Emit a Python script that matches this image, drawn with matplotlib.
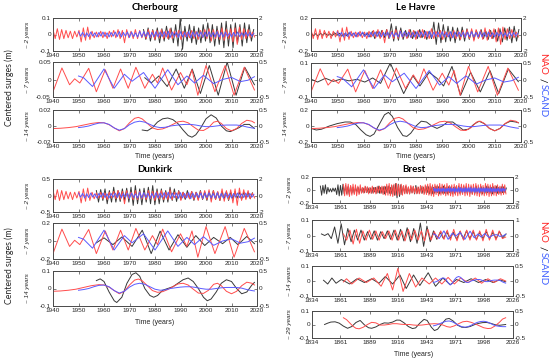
import numpy as np
import matplotlib
matplotlib.use("Agg")
import matplotlib.pyplot as plt

# ---------------- data ----------------
# Channel ports share the same NAO / SCAND band-passed indices (right axes)
nao_2y = [0.6, -0.5, 0.7, -0.6, 0.6, -0.5, 0.5, -0.4, 0.4, -0.5, 0.4, -0.3,
          0.5, -0.9, 0.8, -0.7, 0.9, -0.6, 0.4, -0.4, 0.3, -0.3, 0.4, -0.4,
          0.3, -0.5, 0.4, -0.3, 0.5, -0.4, 0.6, -0.5, 0.5, -1.0, 0.6, -0.4,
          0.4, -0.5, 0.6, -0.5, 0.5, -0.4, 0.3, -0.5, 0.6, -0.4, 0.5, -0.6,
          0.5, -0.4, 0.6, -0.5, 0.4, -0.5, 0.7, -0.5, 0.4, -0.3, 0.5, -0.6,
          0.4, -0.3, 0.3, -0.4, 0.5, -0.5, 0.4, -0.6, 0.5, -0.4, 0.6, -0.5,
          0.7, -0.8, 0.6, -0.5, 0.5, -0.6, 0.8, -0.7, 0.6, -0.5, 0.7, -0.9,
          0.8, -1.2, 0.9, -0.6, 0.7, -0.5, 0.6, -0.4, 0.3, -0.3]
nao_2y_start, nao_2y_step = 1940, 0.85
scand_2y = [0.3, -0.2, 0.25, -0.3, 0.2, -0.25, 0.3, -0.2, 0.2, -0.3,
            0.25, -0.2, 0.3, -0.25, 0.2, -0.3, 0.25, -0.2, 0.3, -0.25,
            0.35, -0.3, 0.25, -0.2, 0.3, -0.35, 0.3, -0.25, 0.2, -0.3,
            0.4, -0.3, 0.35, -0.25, 0.3, -0.35, 0.25, -0.3, 0.35, -0.3,
            0.3, -0.25, 0.35, -0.3, 0.4, -0.35, 0.3, -0.25, 0.3, -0.35,
            0.35, -0.3, 0.25, -0.3, 0.35, -0.4, 0.3, -0.25, 0.3, -0.25,
            0.3, -0.35, 0.3, -0.25, 0.35, -0.3, 0.25, -0.3, 0.35, -0.3,
            0.25, -0.3, 0.3, -0.25, 0.2, -0.3, 0.25, -0.2, 0.3, -0.25,
            0.2, -0.25, 0.3, -0.2, 0.25, -0.2, 0.15]
scand_2y_start, scand_2y_step = 1950, 0.8

nao_7y_t = [1940, 1943.5, 1946.5, 1948.5, 1950.5, 1954, 1957, 1960.5, 1963.5, 1966.5,
            1969.5, 1972.5, 1976, 1979, 1981, 1983, 1986.5, 1990, 1992.5, 1994.5,
            1996.8, 2000, 2003.5, 2007.5, 2011, 2015, 2019]
nao_7y = [-0.35, 0.33, -0.15, 0.02, -0.1, 0.32, -0.35, 0.28, -0.25, 0.3,
          -0.25, 0.35, -0.25, 0.15, -0.1, 0.33, -0.3, 0.2, -0.15, 0.28,
          -0.45, 0.4, -0.35, 0.4, -0.45, 0.35, -0.3]
scand_7y_t = [1950, 1952, 1955.5, 1960, 1964, 1968, 1971, 1975.5, 1980, 1985,
              1989, 1992.5, 1995.5, 1999, 2003, 2006.5, 2010, 2013.5, 2016.5, 2019]
scand_7y = [0.1, 0.05, -0.2, 0.3, -0.25, 0.15, -0.05, 0.2, -0.25, 0.28,
            -0.15, 0.1, -0.1, 0.12, -0.12, 0.0, 0.06, -0.06, -0.02, 0.08]

nao_14y_t = [1940, 1943, 1946, 1949, 1952, 1955, 1958, 1960, 1962, 1964,
             1966, 1968, 1970, 1972, 1973.5, 1975, 1977, 1979, 1981, 1983,
             1985, 1987, 1989, 1991, 1993, 1995, 1997, 1999, 2001, 2003,
             2004.5, 2006, 2008, 2010, 2012, 2014, 2016, 2018, 2019]
nao_14y = [-0.08, -0.07, -0.05, -0.02, 0.03, 0.08, 0.11, 0.1, 0.04, -0.06,
           -0.15, -0.08, 0.1, 0.24, 0.27, 0.22, 0.08, -0.06, -0.11, -0.09,
           -0.03, 0.05, 0.13, 0.15, 0.1, -0.02, -0.13, -0.14, -0.05, 0.12,
           0.15, 0.08, -0.08, -0.15, -0.08, 0.08, 0.18, 0.15, 0.1]
scand_14y_t = [1950, 1952, 1954, 1956, 1958, 1960, 1962, 1964, 1966, 1968,
               1970, 1972, 1974, 1976, 1978, 1980, 1982, 1984, 1986, 1988,
               1990, 1992, 1994, 1996, 1998, 2000, 2002, 2004, 2006, 2008,
               2010, 2012, 2014, 2016, 2018, 2019]
scand_14y = [-0.05, -0.03, 0.0, 0.05, 0.09, 0.1, 0.05, -0.06, -0.13, -0.08,
             0.04, 0.12, 0.15, 0.12, 0.05, -0.02, -0.05, -0.04, 0.0, 0.02,
             0.04, 0.05, 0.05, 0.03, 0.0, -0.02, -0.02, 0.0, 0.02, 0.03,
             0.03, 0.03, 0.01, -0.03, -0.06, -0.07]

# Cherbourg surges (m)
cher_2y = [0.03, -0.03, 0.04, -0.04, 0.03, -0.035,
           0.04, -0.05, 0.035, -0.04, 0.05, -0.03,
           0.04, -0.05, 0.06, -0.07, 0.1, -0.09,
           0.05, -0.04, 0.06, -0.05, 0.05, -0.06,
           0.04, -0.05, 0.06, -0.04, 0.07, -0.05,
           0.06, -0.07, 0.05, -0.06, 0.07, -0.08,
           0.08, -0.07, 0.06, -0.08, 0.07, -0.05,
           0.06, -0.07, 0.07, -0.05, 0.06, -0.04, 0.03]
cher_2y_start, cher_2y_step = 1975.5, 0.9
cher_7y_t = [1976, 1978.5, 1981.5, 1984.8, 1988.3, 1991.5, 1994.6, 1997.8, 2001.3, 2004.8,
             2008.3, 2011.8, 2015.2, 2019]
cher_7y = [0.005, -0.01, 0.01, -0.02, 0.03, -0.025, 0.03, -0.04, 0.04, -0.045,
           0.05, -0.045, 0.035, -0.015]
cher_14y_t = [1975, 1977, 1979, 1981, 1983, 1985, 1987, 1989, 1991, 1993, 1994.5, 1996,
              1998, 2000, 2002, 2004, 2006, 2008, 2009.5, 2011, 2013, 2015, 2017, 2019]
cher_14y = [-0.005, -0.006, -0.002, 0.005, 0.009, 0.01, 0.008, 0.003, -0.005, -0.012,
            -0.014, -0.011, -0.002, 0.009, 0.014, 0.01, 0.0, -0.006, -0.007, -0.005,
            -0.002, 0.002, 0.002, -0.003]

# Le Havre surges (m)
havre_2y = [0.02, -0.015, 0.01, -0.02, 0.015, -0.01, 0.02, -0.015, 0.01, -0.015,
            0.02, -0.01, 0.015, -0.02, 0.01, -0.015, 0.02, -0.01, 0.015, -0.02,
            0.015, -0.01, 0.02, -0.015, 0.02,
            -0.03, 0.04, -0.05, 0.04, -0.03, 0.05, -0.04, 0.06, -0.05,
            0.13, -0.08, 0.1, -0.07, 0.08, -0.06,
            0.05, -0.04, 0.06, -0.05, 0.04, -0.05, 0.06, -0.04, 0.05, -0.06, 0.04, -0.05,
            0.15, -0.12, 0.14, -0.1, 0.12,
            -0.09, 0.1, -0.08, 0.09, -0.1, 0.08, -0.07, 0.09, -0.08, 0.07, -0.06,
            0.05, -0.06, 0.05, -0.04, 0.06, -0.05, 0.04, -0.06, 0.05, -0.05, 0.06,
            -0.08, 0.07, -0.09, 0.08, -0.07, 0.09, -0.1, 0.1, -0.08, 0.06]
havre_2y_start, havre_2y_step = 1940, 0.9
havre_7y_t = [1940, 1942.5, 1945.5, 1948.5, 1951.5, 1954.5, 1957.5, 1960.5, 1963.5, 1966.5,
              1970.2, 1975.3, 1978.8, 1981.5, 1985, 1988, 1990.5, 1993.7, 1997, 2000.8,
              2004.5, 2008.2, 2011.5, 2015.2, 2019]
havre_7y = [0.005, -0.012, 0.01, -0.008, 0.006, -0.005, 0.004, -0.012, 0.012, -0.02,
            0.1, -0.08, 0.025, -0.035, 0.045, 0.01, -0.035, 0.08, -0.09, 0.045,
            -0.07, 0.055, -0.08, 0.065, -0.01]
havre_14y_t = [1940, 1942, 1944, 1947, 1950, 1953, 1955, 1957, 1959, 1961,
               1962.5, 1964, 1966, 1968, 1969.5, 1971, 1973, 1975, 1976.5, 1978,
               1980, 1982, 1984, 1986, 1988, 1990, 1992, 1994, 1996, 1998,
               2000, 2002, 2004, 2006, 2008, 2010, 2012, 2014, 2016, 2018, 2019]
havre_14y = [-0.03, -0.05, -0.04, 0.0, 0.03, 0.05, 0.05, 0.02, -0.05, -0.11,
             -0.13, -0.1, 0.02, 0.14, 0.17, 0.12, -0.02, -0.12, -0.13, -0.09,
             0.0, 0.06, 0.05, 0.0, -0.03, 0.0, 0.05, 0.05, 0.0, -0.05,
             -0.04, 0.02, 0.06, 0.03, -0.03, -0.06, -0.03, 0.03, 0.06, 0.05, 0.04]

# Dunkirk surges (m)
dunk_2y = [0.15, -0.2, 0.18, -0.15,
           0.2, -0.25, 0.15, -0.2, 0.25, -0.2, 0.15, -0.18, 0.2, -0.15, 0.22, -0.2,
           0.25, -0.3, 0.3, -0.25, 0.2, -0.28, 0.22, -0.2, 0.25,
           -0.25, 0.3, -0.28, 0.2, -0.25, 0.2,
           -0.2, 0.15, -0.2, 0.25, -0.15, 0.2, -0.18, 0.15,
           -0.12, 0.1, -0.12, 0.15, -0.1, 0.12, -0.15, 0.1, -0.12, 0.15, -0.12, 0.1,
           -0.15, 0.12, -0.1, 0.15, -0.12, 0.1, -0.15, 0.12, -0.1, 0.12, -0.15, 0.1,
           -0.1, 0.12, -0.08, 0.1, -0.12, 0.1, -0.08, 0.1, -0.1, 0.08]
dunk_2y_start, dunk_2y_step = 1957, 0.85
dunk_7y_t = [1957, 1960, 1963.5, 1967, 1971, 1975, 1978.5, 1982, 1985.5, 1989,
             1992.5, 1996, 1999.5, 2003, 2006.5, 2009.5, 2012.5, 2016, 2019]
dunk_7y = [-0.02, 0.035, -0.04, 0.045, -0.06, 0.12, -0.14, 0.11, -0.1, 0.07,
           -0.07, 0.06, -0.05, 0.04, -0.03, 0.04, -0.04, 0.05, -0.03]
dunk_14y_t = [1957, 1958.5, 1960, 1962, 1964, 1965, 1967, 1969, 1971, 1972.5,
              1974, 1976, 1978, 1979.5, 1981, 1983, 1985, 1987, 1989, 1991,
              1993, 1995, 1997, 1999, 2000.5, 2002, 2004, 2006, 2008, 2010,
              2012, 2014, 2016, 2018, 2019]
dunk_14y = [0.045, 0.055, 0.04, -0.02, -0.07, -0.08, -0.05, 0.03, 0.08, 0.09,
            0.07, 0.0, -0.04, -0.05, -0.04, -0.01, 0.0, 0.01, 0.03, 0.05,
            0.06, 0.04, 0.0, -0.05, -0.07, -0.06, -0.02, 0.03, 0.05, 0.04,
            0.0, -0.03, -0.02, 0.02, 0.035]

# Brest surges (m) and its long NAO record
brest_2y = [0.06, -0.08, 0.07, -0.05, 0.08, -0.06, 0.04, -0.03,
            0.02, -0.03, 0.03, -0.02, 0.03,
            -0.07, 0.08, -0.09, 0.07, -0.08, 0.09, -0.06, 0.07,
            -0.06, 0.05, -0.07, 0.06, -0.05, 0.04, -0.05, 0.04, -0.03, 0.04, -0.05, 0.04,
            -0.04, 0.03, -0.04, 0.05, -0.04, 0.03, -0.04, 0.03, -0.05, 0.04, -0.03, 0.04,
            -0.05, 0.06, -0.05, 0.04, -0.05,
            0.05, -0.06, 0.05, -0.04, 0.06, -0.05, 0.04, -0.06, 0.07, -0.08,
            0.1, -0.12, 0.09, -0.1, 0.08, -0.07, 0.06,
            -0.05, 0.06, -0.05, 0.04, -0.06, 0.05, -0.04, 0.05, -0.06, 0.07, -0.05, 0.04,
            -0.05, 0.06, -0.05, 0.04, -0.05, 0.06, -0.04, 0.05, -0.06,
            0.05, -0.06, 0.04, -0.05, 0.06, -0.04, 0.05, -0.06, 0.04, -0.05,
            0.06, -0.05, 0.04, -0.06, 0.05, -0.04, 0.05, -0.06, 0.04, -0.05,
            0.05, -0.04, 0.06, -0.05, 0.04, -0.05, 0.06, -0.04, 0.05, -0.06,
            0.04, -0.05, 0.05, -0.06, 0.04, -0.05, 0.06, -0.05, 0.04, -0.05,
            0.05, -0.06, 0.04, -0.05, 0.06, -0.04, 0.05, -0.05, 0.04, -0.06,
            0.05, -0.04, 0.06, -0.05, 0.04, -0.05, 0.05, -0.04, 0.05, -0.04,
            0.03]
brest_2y_start, brest_2y_step = 1842, 1.2
brest_nao_2y = [0.8, -0.9, 1.0, -0.8, 0.9, -1.0, 0.7, -0.8, 0.9, -0.7, 0.8, -0.9, 0.6, -0.7, 0.8,
                -0.5, 0.4, -0.5, 0.6, -0.4, 0.5, -0.6, 0.4, -0.5, 0.6, -0.5, 0.4, -0.6, 0.5,
                -0.4, 0.6, -0.5, 0.6, -0.7, 0.6, -0.8,
                0.9, -0.8, 1.0, -0.9, 0.8, -1.0, 0.9, -0.8, 1.0, -0.9, 0.8, -0.7, 0.9, -0.8,
                0.7, -0.6, 0.8,
                -0.6, 0.5, -0.6, 0.7, -0.5, 0.6, -0.5, 0.4, -0.6, 0.5, -0.6, 0.7, -0.5, 0.6,
                -0.7, 0.8, -0.7,
                0.9, -0.8, 1.0, -0.9, 0.8, -1.0, 0.9, -0.7, 0.8, -0.9,
                1.0, -0.8, 0.9, -0.7, 0.8, -0.9, 1.0, -0.8, 0.7, -0.9,
                0.8, -1.0, 0.9, -0.8, 0.7, -0.9, 1.0, -0.8, 0.9, -0.7,
                0.8, -0.9, 1.0, -0.8, 0.9, -1.0, 0.8, -0.7, 0.9, -0.8,
                1.0, -0.9, 0.8, -1.0, 0.9, -0.8, 0.7, -0.9, 1.0, -0.8,
                0.9, -1.0, 0.8, -0.9, 1.0, -0.8, 0.7, -0.9, 0.8, -0.7,
                0.6, -0.8, 0.9, -0.7, 0.8, -0.6]
brest_nao_2y_start, brest_nao_2y_step = 1864, 1.15
brest_7y = [0.01, 0.0, 0.012, -0.02, 0.055, -0.05, 0.075, -0.06, 0.045, -0.04,
            0.035, -0.03, 0.035, -0.03, 0.025, -0.025, 0.03, -0.03, 0.025, -0.02,
            0.03, -0.025, 0.035, -0.03, 0.04, -0.035, 0.05, -0.04, 0.045, -0.05,
            0.08, -0.07, 0.06, -0.04, 0.03, -0.025, 0.02, -0.02, 0.025, -0.02,
            0.02, -0.025, 0.025, -0.02, 0.03, -0.02, 0.025, -0.025, 0.02, -0.02,
            0.025, -0.02, 0.02, -0.02, 0.025, -0.015, 0.01]
brest_7y_start, brest_7y_step = 1843, 3.15
brest_nao_7y = [0.1, -0.3, 0.35, -0.55, 0.4, -0.5, 0.3, -0.3, 0.35, -0.25,
                0.3, -0.3, 0.25, -0.2, 0.3, -0.3, 0.35, -0.3, 0.3, -0.35,
                0.4, -0.3, 0.35, -0.3, 0.3, -0.35, 0.4, -0.3, 0.25, -0.2,
                0.3, -0.25, 0.35, -0.3, 0.4, -0.35, 0.3, -0.3, 0.35, -0.3,
                0.35, -0.3, 0.3, -0.35, 0.4, -0.3, 0.35, -0.3, 0.3, -0.2, -0.1]
brest_nao_7y_start, brest_nao_7y_step = 1864, 3.1
brest_14y_t = [1845, 1849, 1853, 1857, 1862, 1870, 1877, 1884, 1891, 1898,
               1904, 1911, 1918, 1924, 1931, 1937, 1945, 1952, 1959, 1966,
               1972, 1979, 1986, 1993, 2000, 2007, 2013, 2019]
brest_14y = [0.005, -0.02, 0.02, -0.015, 0.01, -0.02, 0.015, -0.01, 0.015, -0.015,
             0.03, -0.02, 0.04, -0.05, 0.04, -0.03, 0.055, -0.035, 0.02, -0.025,
             0.01, -0.01, 0.015, -0.01, 0.01, -0.01, 0.008, -0.005]
brest_nao_14y_t = [1864, 1867, 1872, 1879, 1886, 1893, 1900, 1906, 1911,
                   1916, 1921, 1927, 1933, 1939, 1946, 1952, 1958, 1964, 1970,
                   1976, 1983, 1990, 1996, 2002, 2008, 2014, 2019]
brest_nao_14y = [-0.03, 0.075, -0.1, 0.1, -0.05, 0.1, -0.175, 0.25, -0.3,
                 0.42, -0.35, 0.25, -0.2, 0.1, -0.1, 0.1, -0.1, 0.12, -0.1,
                 0.1, -0.05, 0.1, -0.075, 0.075, -0.05, 0.075, 0.0]
brest_29y_t = [1846, 1849, 1852, 1856, 1860, 1864, 1868, 1872, 1876, 1880,
               1884, 1888, 1891, 1895, 1899, 1903, 1907, 1911,
               1915, 1918, 1922, 1926, 1930, 1933, 1937, 1941, 1944, 1948,
               1951, 1954, 1958, 1962, 1965, 1969, 1973, 1977, 1981, 1985,
               1989, 1993, 1997, 2001, 2005, 2009, 2013, 2017, 2019]
brest_29y = [0.0, 0.01, 0.018, 0.02, 0.01, -0.012, -0.028, -0.015, 0.015, 0.03,
             -0.002, -0.024, -0.028, -0.018, 0.0, 0.012, 0.01, 0.018,
             0.033, 0.032, 0.012, -0.015, -0.03, -0.025, 0.01, 0.038, 0.03, -0.02,
             -0.045, -0.035, 0.005, 0.04, 0.045, 0.025, -0.005, -0.02, -0.022, -0.015,
             -0.002, 0.008, 0.014, 0.015, 0.008, -0.002, -0.006, -0.002, 0.0]
brest_nao_29y_t = [1864, 1867, 1870, 1873, 1876, 1879, 1883, 1887, 1891, 1895,
                   1899, 1903, 1907, 1911, 1915, 1919, 1923, 1927, 1931,
                   1935, 1939, 1943, 1947, 1951, 1955, 1959, 1963, 1966, 1970,
                   1974, 1978, 1982, 1986, 1990, 1994, 1998, 2002, 2005, 2009,
                   2013, 2016, 2019]
brest_nao_29y = [0.25, 0.18, 0.06, -0.06, -0.14, -0.16, -0.1, 0.0, 0.08, 0.06,
                 -0.02, -0.02, 0.0, 0.03, 0.03, 0.01, 0.0, 0.0, -0.02,
                 -0.03, -0.02, 0.0, 0.02, 0.03, 0.02, -0.02, -0.08, -0.1, -0.05,
                 0.03, 0.1, 0.12, 0.08, 0.02, -0.05, -0.12, -0.15, -0.14, -0.05,
                 0.08, 0.2, 0.25]
scand_29y_t = [1950, 1953, 1956, 1959, 1962, 1965, 1968, 1971, 1974, 1977,
               1980, 1983, 1986, 1989, 1992, 1995, 1998, 2001, 2004, 2007,
               2010, 2013, 2016, 2019]
scand_29y = [-0.05, -0.02, 0.03, 0.08, 0.12, 0.13, 0.1, 0.04, -0.03, -0.08,
             -0.1, -0.08, -0.03, 0.03, 0.08, 0.11, 0.12, 0.1, 0.05, -0.01,
             -0.05, -0.07, -0.08, -0.08]

channel_years = [1940, 1950, 1960, 1970, 1980, 1990, 2000, 2010, 2020]
brest_years = [1834, 1861, 1889, 1916, 1943, 1971, 1998, 2026]

# ---------------- drawing ----------------
W, H = 550, 361
RED, BLUE, BLACK = "#ff4c4c", "#5a5aff", "#383838"
FRAME = "#4a4a4a"
TXT = "#262626"
SANS = "Liberation Sans"
TITLE_FONT = "Lato"

fig = plt.figure(figsize=(5.5, 3.61), dpi=100)


def regular(start, step, vals):
    return start + step * np.arange(len(vals)), np.asarray(vals)


def panel(box, years, surge, nao, scand, lim_l, lim_r, band, band_x):
    left, top, right, bottom = box
    ax = fig.add_axes([left / W, 1 - bottom / H, (right - left) / W, (bottom - top) / H])
    ax.plot(*surge, color=BLACK, lw=0.7)
    ax.set_xlim(years[0], years[-1])
    ax.set_xticks(years)
    ax.set_xticklabels([str(y) for y in years])
    ax.set_ylim(-lim_l, lim_l)
    ax.set_yticks([-lim_l, 0, lim_l])
    ax.set_yticklabels([f"-{lim_l:g}", "0", f"{lim_l:g}"])

    axr = ax.twinx()
    axr.plot(*nao, color=RED, lw=0.7)
    axr.plot(*scand, color=BLUE, lw=0.7)
    axr.set_ylim(-lim_r, lim_r)
    axr.set_yticks([-lim_r, 0, lim_r])
    axr.set_yticklabels([f"-{lim_r:g}", "0", f"{lim_r:g}"])

    for a in (ax, axr):
        for s in a.spines.values():
            s.set_color(FRAME)
            s.set_linewidth(0.6)
        a.tick_params(direction="in", length=2, width=0.5, color=FRAME,
                      labelsize=4.6, pad=1.5, labelcolor=TXT)
        for lab in a.get_xticklabels() + a.get_yticklabels():
            lab.set_fontfamily(SANS)
    ax.tick_params(axis="x", top=True)

    fig.text(band_x / W, 1 - (top + bottom) / 2 / H, f"~ {band} years", rotation=90,
             ha="center", va="center", fontsize=4.6, style="italic",
             family=SANS, color=TXT)
    return ax


def label(x, y, s, **kw):
    fig.text(x / W, 1 - y / H, s, ha="center", va="center", **kw)


# Cherbourg
panel((53, 18, 257, 51), channel_years, regular(cher_2y_start, cher_2y_step, cher_2y),
      regular(nao_2y_start, nao_2y_step, nao_2y), regular(scand_2y_start, scand_2y_step, scand_2y),
      0.1, 2, 2, 28)
panel((53, 62, 257, 97), channel_years, (cher_7y_t, cher_7y), (nao_7y_t, nao_7y),
      (scand_7y_t, scand_7y), 0.05, 0.5, 7, 28)
panel((53, 110, 257, 142), channel_years, (cher_14y_t, cher_14y), (nao_14y_t, nao_14y),
      (scand_14y_t, scand_14y), 0.02, 0.5, 14, 28)

# Le Havre
panel((311, 18, 521, 51), channel_years, regular(havre_2y_start, havre_2y_step, havre_2y),
      regular(nao_2y_start, nao_2y_step, nao_2y), regular(scand_2y_start, scand_2y_step, scand_2y),
      0.2, 2, 2, 285)
panel((311, 63, 521, 97), channel_years, (havre_7y_t, havre_7y), (nao_7y_t, nao_7y),
      (scand_7y_t, scand_7y), 0.1, 0.5, 7, 285)
panel((311, 110, 521, 142), channel_years, (havre_14y_t, havre_14y), (nao_14y_t, nao_14y),
      (scand_14y_t, scand_14y), 0.2, 0.5, 14, 285)

# Dunkirk
panel((53, 179, 257, 212), channel_years, regular(dunk_2y_start, dunk_2y_step, dunk_2y),
      regular(nao_2y_start, nao_2y_step, nao_2y), regular(scand_2y_start, scand_2y_step, scand_2y),
      0.5, 2, 2, 28)
panel((53, 223, 257, 259), channel_years, (dunk_7y_t, dunk_7y), (nao_7y_t, nao_7y),
      (scand_7y_t, scand_7y), 0.2, 0.5, 7, 28)
panel((53, 271, 257, 306), channel_years, (dunk_14y_t, dunk_14y), (nao_14y_t, nao_14y),
      (scand_14y_t, scand_14y), 0.1, 0.5, 14, 28)

# Brest
panel((312, 177, 513, 203), brest_years, regular(brest_2y_start, brest_2y_step, brest_2y),
      regular(brest_nao_2y_start, brest_nao_2y_step, brest_nao_2y),
      regular(scand_2y_start, scand_2y_step, scand_2y), 0.2, 2, 2, 290)
panel((312, 220, 513, 251), brest_years, regular(brest_7y_start, brest_7y_step, brest_7y),
      regular(brest_nao_7y_start, brest_nao_7y_step, brest_nao_7y),
      (scand_7y_t, scand_7y), 0.1, 1, 7, 290)
panel((312, 266, 513, 296), brest_years, (brest_14y_t, brest_14y),
      (brest_nao_14y_t, brest_nao_14y), (scand_14y_t, scand_14y), 0.1, 0.5, 14, 290)
panel((312, 311, 513, 338), brest_years, (brest_29y_t, brest_29y),
      (brest_nao_29y_t, brest_nao_29y), (scand_29y_t, scand_29y), 0.1, 0.5, 29, 290)

# titles and axis texts
for x, y, name in [(155, 7, "Cherbourg"), (416, 7, "Le Havre"),
                   (155, 169, "Dunkirk"), (414, 169, "Brest")]:
    label(x, y, name, fontsize=7, fontweight="bold", family=TITLE_FONT, color="black")
for x, y in [(155, 156), (416, 156), (155, 322), (414, 354)]:
    label(x, y, "Time (years)", fontsize=5, family=SANS, color=TXT)
for y in (88, 266):
    label(9, y, "Centered surges (m)", fontsize=6.3, rotation=90, family=TITLE_FONT, color=TXT)

# right-hand "NAO / SCAND" legend text, read top to bottom
for y0 in (0, 168):
    label(543, 64 + y0, "NAO", fontsize=7, rotation=-90, family=TITLE_FONT, color="#ff2020")
    label(543, 80 + y0, "/", fontsize=7, rotation=-90, family=TITLE_FONT, color="black")
    label(543, 101 + y0, "SCAND", fontsize=7, rotation=-90, family=TITLE_FONT, color="#4060ff")

fig.savefig("out.png", dpi=100)
